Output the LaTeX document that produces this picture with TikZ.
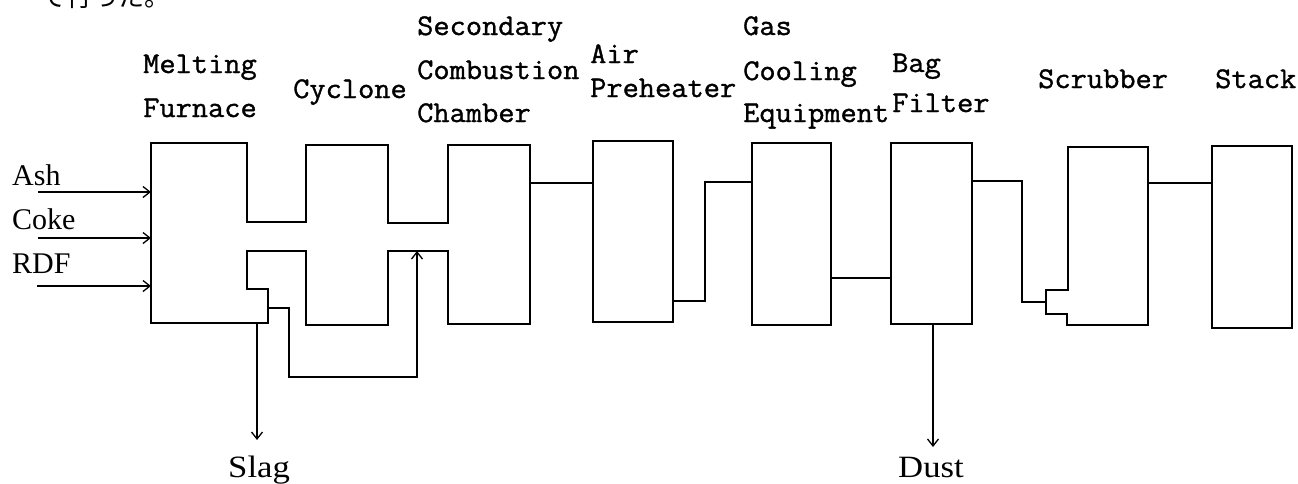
\documentclass[tikz,border=0pt]{standalone}
\usepackage{fontspec}
\usetikzlibrary{arrows.meta,calc}
\newfontfamily\eqfont[FakeStretch=1.05,FakeBold=1.2]{Latin Modern Mono}
\newfontfamily\feedfont{Liberation Serif}
\newfontfamily\outfont[FakeStretch=1.12]{Liberation Serif}
\newfontfamily\jpfont{Noto Sans CJK JP}
\tikzset{
  pipe/.style={line width=1.5pt, black, line join=miter},
  flow/.style={pipe, -{Straight Barb[length=7pt,width=11pt,line width=1.3pt]}},
  eqlab/.style={font={\eqfont\fontsize{30pt}{31pt}\selectfont}, anchor=base west, inner sep=0pt},
  feedlab/.style={font={\feedfont\fontsize{30pt}{31pt}\selectfont}, anchor=base west, inner sep=0pt},
  outlab/.style={font={\outfont\fontsize{31pt}{32pt}\selectfont}, anchor=base west, inner sep=0pt},
  unitbox/.style={draw, line width=1.5pt, inner sep=0pt, fill=none},
}
\begin{document}
\begin{tikzpicture}[x=1pt,y=-1pt]
\fill[white] (0,0) rectangle (1298,483);
\useasboundingbox (0,0) rectangle (1298,483);
\clip (0,0) rectangle (1298,483);

% cut-off text from the page above
\node[font={\jpfont\fontsize{26pt}{27pt}\selectfont}, anchor=base west, inner sep=0pt] (jp) at (40,6) {で行った。};

% equipment labels
\node[eqlab] (mf1) at (143,73) {Melting};
\node[eqlab] (mf2) at (143,117) {Furnace};
\node[eqlab] (cy1) at (293,98) {Cyclone};
\node[eqlab] (sc1) at (417,35) {Secondary};
\node[eqlab] (sc2) at (417,79) {Combustion};
\node[eqlab] (sc3) at (417,122) {Chamber};
\node[eqlab] (ap1) at (590,63) {Air};
\node[eqlab] (ap2) at (590,97) {Preheater};
\node[eqlab] (gc1) at (743,35) {Gas};
\node[eqlab] (gc2) at (743,80) {Cooling};
\node[eqlab] (gc3) at (743,122) {Equipment};
\node[eqlab] (bf1) at (892,72) {Bag};
\node[eqlab] (bf2) at (892,112) {Filter};
\node[eqlab] (sb1) at (1038,88) {Scrubber};
\node[eqlab] (st1) at (1215,88) {Stack};

% feed labels
\node[feedlab] (ash) at (12,185) {Ash};
\node[feedlab] (coke) at (12,229) {Coke};
\node[feedlab] (rdf) at (12,273) {RDF};
\node[outlab] (slag) at (228,477) {Slag};
\node[outlab] (dust) at (898,477) {Dust};

% melting furnace + cyclone + secondary combustion chamber outline
\draw[pipe] (151,143) -- (247,143) -- (247,222) -- (306,222) -- (306,145)
  -- (388,145) -- (388,223) -- (448,223) -- (448,145) -- (530,145)
  -- (530,324) -- (448,324) -- (448,251) -- (388,251) -- (388,325)
  -- (306,325) -- (306,251) -- (247,251) -- (247,289) -- (268,289)
  -- (268,323) -- (151,323) -- cycle;

% simple units
\node[unitbox, minimum width=80pt, minimum height=181pt] (ap) at (633,231.5) {};
\node[unitbox, minimum width=79pt, minimum height=182pt] (gce) at (791.5,234) {};
\node[unitbox, minimum width=81pt, minimum height=181pt] (bf) at (931.5,233.5) {};
\node[unitbox, minimum width=80pt, minimum height=182pt] (stack) at (1252,237) {};

% scrubber with inlet notch
\draw[pipe] (1068,147) -- (1148,147) -- (1148,325) -- (1067,325) -- (1067,314)
  -- (1046,314) -- (1046,290) -- (1068,290) -- cycle;
\coordinate (sbin) at (1046,302);
\coordinate (sbout) at (1148,183);

% named points
\coordinate (mfin1) at (151,192);
\coordinate (mfin2) at (151,238);
\coordinate (mfin3) at (151,286);
\coordinate (ashs) at (38,192);
\coordinate (cokes) at (38,238);
\coordinate (rdfs) at (37,286);
\coordinate (mfout) at (257,323);
\coordinate (slagtip) at (257,440);
\coordinate (rec0) at (268,308);
\coordinate (rec1) at (289,377);
\coordinate (rec2) at (417,251);
\coordinate (sco) at (530,183);
\coordinate (apo) at (673,301);
\coordinate (apg) at (705,182);
\coordinate (gco) at (831,278);
\coordinate (bfo) at (972,181);
\coordinate (bfs) at (1022,302);
\coordinate (bfb) at (933,324);
\coordinate (dusttip) at (933,447);

% feeds
\draw[flow] (ashs) -- (mfin1);
\draw[flow] (cokes) -- (mfin2);
\draw[flow] (rdfs) -- (mfin3);

% slag out
\draw[flow] (mfout) -- (slagtip);
% recycle line
\draw[flow] (rec0) -| (rec1) -| (rec2);

% gas train
\draw[pipe] (sco) -- (sco -| ap.west);
\draw[pipe] (apo) -| (apg) -- (apg -| gce.west);
\draw[pipe] (gco) -- (gco -| bf.west);
\draw[pipe] (bfo) -| (bfs) -- (sbin);
\draw[pipe] (sbout) -- (sbout -| stack.west);

% dust out
\draw[flow] (bfb) -- (dusttip);
\end{tikzpicture}
\end{document}
